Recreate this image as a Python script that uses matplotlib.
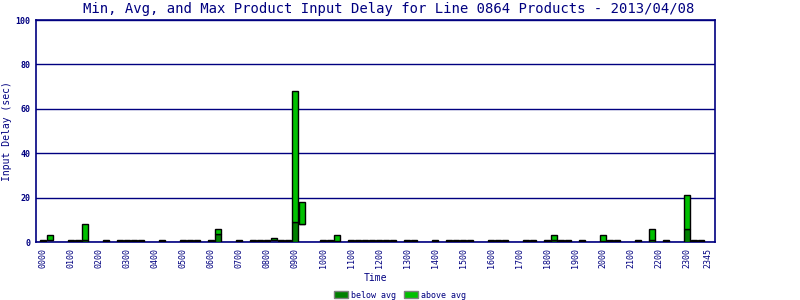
import numpy as np
import matplotlib
matplotlib.use("Agg")
import matplotlib.pyplot as plt
from matplotlib.patches import Patch

plt.rcParams['font.family'] = ['DejaVu Sans Mono']

title = "Min, Avg, and Max Product Input Delay for Line 0864 Products - 2013/04/08"

# 15-minute time slots 0000..2345
slots = [f"{h:02d}{m:02d}" for h in range(24) for m in (0, 15, 30, 45)]

# slot index -> (min, avg, max) seconds; slots not listed have no data
small = (0.0, 0.3, 0.9)
delays = {
    0: small, 1: (0.8, 0.8, 3.2), 4: small, 5: small, 6: (0.0, 0.8, 8.1),
    9: small, 11: small, 12: small, 13: small, 14: small,
    17: small, 20: small, 21: small, 22: small, 24: small,
    25: (0.0, 3.8, 5.9), 28: small, 30: small, 31: small, 32: small,
    33: (0.8, 0.8, 1.8), 34: small, 35: small,
    36: (0.0, 9.0, 68.0), 37: (8.0, 8.0, 18.0),
    40: small, 41: small, 42: (0.0, 0.3, 3.2),
    44: small, 45: small, 46: small, 47: small, 48: small, 49: small, 50: small,
    52: small, 53: small, 56: small, 58: small, 59: small, 60: small, 61: small,
    64: small, 65: small, 66: small, 69: small, 70: small, 72: small,
    73: (0.0, 0.8, 3.2), 74: small, 75: small, 77: small,
    80: (0.0, 0.5, 3.2), 81: small, 82: small, 85: small,
    87: (0.0, 0.9, 5.9), 89: small,
    92: (0.0, 6.0, 21.0), 93: small, 94: small,
}

min_vals = np.array([delays.get(i, (np.nan,) * 3)[0] for i in range(len(slots))])
avg_vals = np.array([delays.get(i, (np.nan,) * 3)[1] for i in range(len(slots))])
max_vals = np.array([delays.get(i, (np.nan,) * 3)[2] for i in range(len(slots))])

tick_labels = [f"{h:02d}00" for h in range(24)] + ["2345"]
tick_pos = [slots.index(t) for t in tick_labels]

navy = "#000080"
dark = "#008000"
light = "#00c000"

fig = plt.figure(figsize=(8, 3), dpi=100)
ax = fig.add_axes([0.045, 0.1933, 0.849, 0.74])

x = np.arange(len(slots))
ok = ~np.isnan(max_vals)
ax.bar(x[ok], (avg_vals - min_vals)[ok], bottom=min_vals[ok], width=0.8,
       color=dark, edgecolor="black", linewidth=1.0, zorder=3)
ax.bar(x[ok], (max_vals - avg_vals)[ok], bottom=avg_vals[ok], width=0.8,
       color=light, edgecolor="black", linewidth=1.0, zorder=3)

ax.set_xlim(-1, 96)
ax.set_ylim(0, 100)
ax.set_yticks([0, 20, 40, 60, 80, 100])
ax.set_xticks(tick_pos)
ax.set_xticklabels(tick_labels, rotation=90, fontsize=6, color=navy)
for lab in ax.get_yticklabels():
    lab.set_fontsize(6)
    lab.set_color(navy)
    lab.set_fontweight("bold")
ax.tick_params(length=0, pad=4)
ax.yaxis.grid(True, color=navy, linewidth=1.0, zorder=0)
ax.set_axisbelow(True)
for s in ax.spines.values():
    s.set_color(navy)
    s.set_linewidth(1.2)

fig.text(389 / 800, 1 - 9 / 300, title, fontsize=10, color=navy,
         ha="center", va="center")
ax.set_ylabel("Input Delay (sec)", fontsize=7, color=navy)
ax.yaxis.set_label_coords(-24 / 679, 0.5)
ax.set_xlabel("Time", fontsize=7, color=navy, labelpad=4)

handles = [Patch(facecolor=dark, edgecolor="#808080", label="below avg"),
           Patch(facecolor=light, edgecolor="#808080", label="above avg")]
leg = fig.legend(handles=handles, loc="center", bbox_to_anchor=(0.5, 1 - 295 / 300),
                 ncol=2, frameon=False, fontsize=6, handlelength=1.6,
                 handleheight=0.9, columnspacing=1.0, handletextpad=0.4,
                 borderpad=0.0)
for t in leg.get_texts():
    t.set_color(navy)

fig.savefig("out.png", dpi=100)
